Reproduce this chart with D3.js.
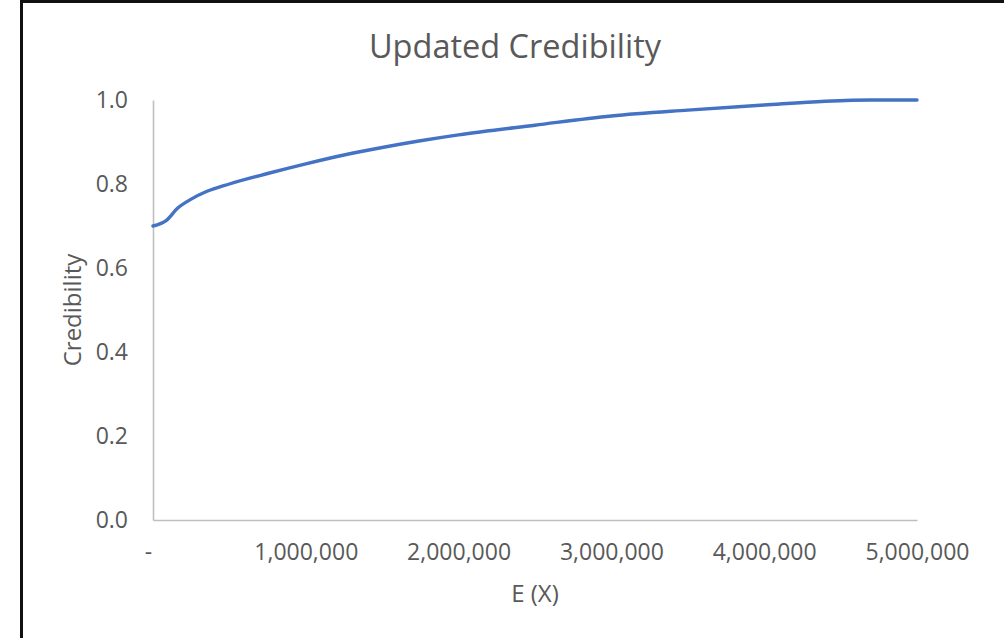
<!DOCTYPE html>
<html>
<head>
<meta charset="utf-8">
<script src="https://cdn.jsdelivr.net/npm/d3@7"></script>
<style>
  body { margin: 0; background: #fff; }
  text { font-family: "Open Sans", sans-serif; fill: #595959; }
</style>
</head>
<body>
<div id="chart"></div>
<script>
// data
var expectedLoss = [0, 90000, 160000, 250000, 350000, 500000, 750000, 1000000, 1250000,
  1500000, 1750000, 2000000, 2500000, 3000000, 3500000, 4000000, 4400000, 4700000, 5000000];
var credibility = [0.700, 0.714, 0.742, 0.764, 0.782, 0.800, 0.825, 0.848, 0.869,
  0.887, 0.903, 0.917, 0.940, 0.962, 0.976, 0.988, 0.997, 1.0, 1.0];
var xTicks = [0, 1000000, 2000000, 3000000, 4000000, 5000000];
var yTicks = [0, 0.2, 0.4, 0.6, 0.8, 1.0];

var svgWidth = 1004;
var svgHeight = 638;

var margin = {
  top: 100,
  right: 87,
  bottom: 118,
  left: 153
};

var width = svgWidth - margin.left - margin.right;
var height = svgHeight - margin.top - margin.bottom;

var svg = d3.select("#chart")
  .append("svg")
  .attr("width", svgWidth)
  .attr("height", svgHeight);

// outer frame (only top and left show in the window)
svg.append("rect")
  .attr("x", 21.5)
  .attr("y", 1.5)
  .attr("width", 1100)
  .attr("height", 800)
  .attr("fill", "none")
  .attr("stroke", "#111")
  .attr("stroke-width", 3);

var chartGroup = svg.append("g")
  .attr("transform", `translate(${margin.left}, ${margin.top})`);

var xScale = d3.scaleLinear()
  .domain([0, 5000000])
  .range([0, width]);

var yScale = d3.scaleLinear()
  .domain([0, 1])
  .range([height, 0]);

var bottomAxis = d3.axisBottom(xScale)
  .tickValues(xTicks)
  .tickSize(0)
  .tickPadding(24)
  .tickFormat(d => d === 0 ? "-" : d3.format(",")(d));

var leftAxis = d3.axisLeft(yScale)
  .tickValues(yTicks)
  .tickSize(0)
  .tickPadding(25)
  .tickFormat(d3.format(".1f"));

var xAxis = chartGroup.append("g")
  .attr("transform", `translate(0, ${height})`)
  .call(bottomAxis);

var yAxis = chartGroup.append("g")
  .call(leftAxis);

[xAxis, yAxis].forEach(function(ax) {
  ax.select(".domain")
    .attr("stroke", "#bfbfbf")
    .attr("stroke-width", 1.6);
  ax.selectAll("text")
    .attr("fill", "#595959")
    .style("font-size", "23px");
});

// the zero label sits a little left, like the accounting format
xAxis.selectAll(".tick text")
  .filter(d => d === 0)
  .attr("dx", -5);

var line = d3.line()
  .x((d, i) => xScale(expectedLoss[i]))
  .y(d => yScale(d))
  .curve(d3.curveMonotoneX);

chartGroup.append("path")
  .datum(credibility)
  .attr("d", line)
  .attr("fill", "none")
  .attr("stroke", "#4472c4")
  .attr("stroke-width", 3.4)
  .attr("stroke-linecap", "round")
  .attr("stroke-linejoin", "round");

// title
svg.append("text")
  .attr("x", 515)
  .attr("y", 58)
  .attr("text-anchor", "middle")
  .style("font-size", "32.5px")
  .text("Updated Credibility");

// axis titles
svg.append("text")
  .attr("x", margin.left + width / 2)
  .attr("y", 602)
  .attr("text-anchor", "middle")
  .style("font-size", "24px")
  .text("E (X)");

svg.append("text")
  .attr("transform", `translate(81, ${margin.top + height / 2}) rotate(-90)`)
  .attr("text-anchor", "middle")
  .style("font-size", "24px")
  .text("Credibility");
</script>
</body>
</html>
